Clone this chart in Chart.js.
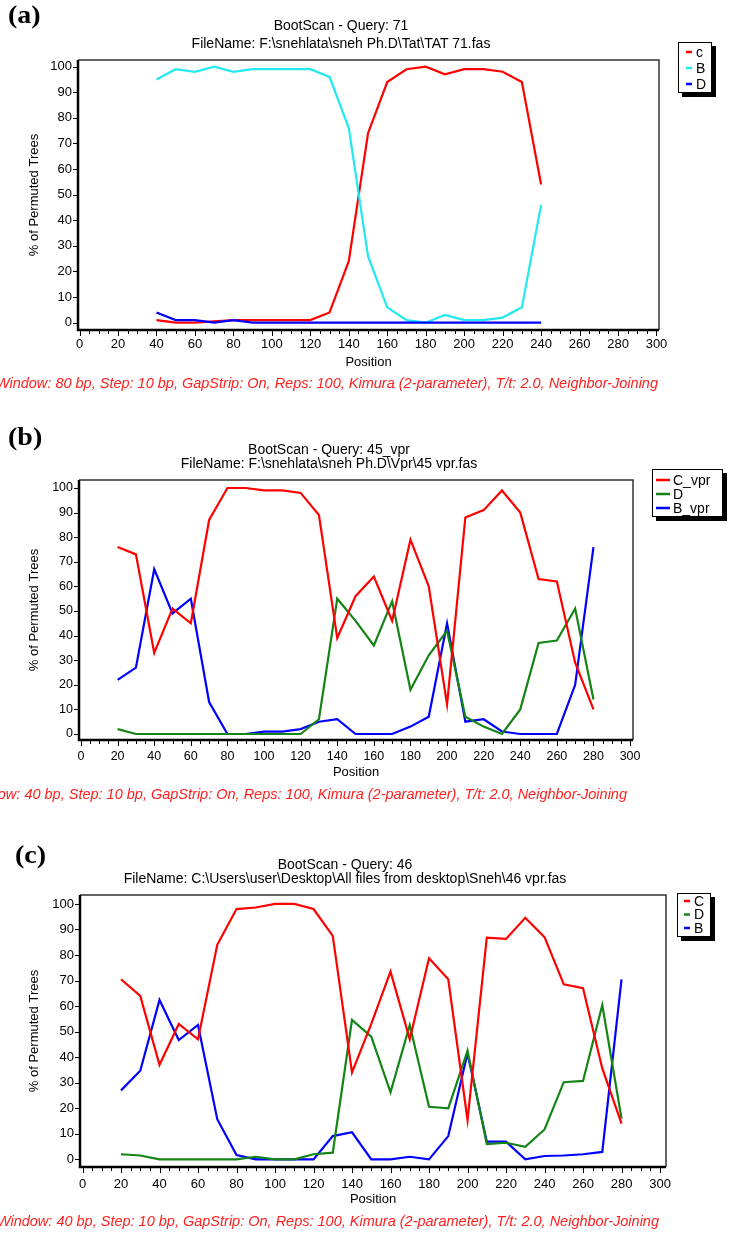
<!DOCTYPE html>
<html><head><meta charset="utf-8">
<script src="https://cdn.jsdelivr.net/npm/chart.js@4.4.1/dist/chart.umd.min.js"></script>
<style>
html,body{margin:0;padding:0;background:#fff;}
body{width:729px;height:1235px;position:relative;overflow:hidden;font-family:"Liberation Sans",Arial,sans-serif;}
canvas{position:absolute;left:0;}
.t{position:absolute;white-space:nowrap;transform:translate(-50%,-50%);color:#000;font-size:14px;line-height:16px;z-index:2;}
.lab{position:absolute;font-family:"Liberation Serif","Times New Roman",serif;font-weight:bold;font-size:25px;line-height:26px;z-index:2;transform:translateY(-50%) scaleX(1.12);transform-origin:left center;}
.cap{position:absolute;white-space:nowrap;color:#ff2020;font-style:italic;font-size:14.5px;line-height:16px;transform:translate(-100%,-50%);z-index:2;}
</style></head>
<body>
<canvas id="ca" width="729" height="400" style="top:0px"></canvas>
<canvas id="cb" width="729" height="400" style="top:420px"></canvas>
<canvas id="cc" width="729" height="395" style="top:840px"></canvas>

<div class="lab" style="left:8px;top:15px">(a)</div>
<div class="t" style="left:341px;top:25px">BootScan - Query: 71</div>
<div class="t" style="left:341px;top:43px">FileName: F:\snehlata\sneh Ph.D\Tat\TAT 71.fas</div>
<div class="cap" style="left:658px;top:383px">Window: 80 bp, Step: 10 bp, GapStrip: On, Reps: 100, Kimura (2-parameter), T/t: 2.0, Neighbor-Joining</div>

<div class="lab" style="left:8px;top:437px">(b)</div>
<div class="t" style="left:329px;top:449px">BootScan - Query: 45_vpr</div>
<div class="t" style="left:329px;top:463px">FileName: F:\snehlata\sneh Ph.D\Vpr\45 vpr.fas</div>
<div class="cap" style="left:627px;top:794px">Window: 40 bp, Step: 10 bp, GapStrip: On, Reps: 100, Kimura (2-parameter), T/t: 2.0, Neighbor-Joining</div>

<div class="lab" style="left:15px;top:855px">(c)</div>
<div class="t" style="left:345px;top:864px">BootScan - Query: 46</div>
<div class="t" style="left:345px;top:878px">FileName: C:\Users\user\Desktop\All files from desktop\Sneh\46 vpr.fas</div>
<div class="cap" style="left:659px;top:1221px">Window: 40 bp, Step: 10 bp, GapStrip: On, Reps: 100, Kimura (2-parameter), T/t: 2.0, Neighbor-Joining</div>

<script>
// ---------- data ----------
const X_TICKS = [0,20,40,60,80,100,120,140,160,180,200,220,240,260,280,300];
const Y_TICKS = [0,10,20,30,40,50,60,70,80,90,100];
const X_TITLE = 'Position';
const Y_TITLE = '% of Permuted Trees';

// Panel (a)
const POS_A = [40,50,60,70,80,90,100,110,120,130,140,150,160,170,180,190,200,210,220,230,240];
const A_c = [1,0,0,0.5,1,1,1,1,1,4,24,74,94,99,100,97,99,99,98,94,54];
const A_B = [95,99,98,100,98,99,99,99,99,96,76,26,6,1,0,3,1,1,2,6,46];
const A_D = [4,1,1,0,1,0,0,0,0,0,0,0,0,0,0,0,0,0,0,0,0];

// Panel (b)
const POS_B = [20,30,40,50,60,70,80,90,100,110,120,130,140,150,160,170,180,190,200,210,220,230,240,250,260,270,280];
const B_C = [76,73,33,51,45,87,100,100,99,99,98,89,39,56,64,46,79,60,12,88,91,99,90,63,62,29,10];
const B_D = [2,0,0,0,0,0,0,0,0,0,0,6,55,46,36,54,18,32,42,7,3,0,10,37,38,51,14];
const B_B = [22,27,67,49,55,13,0,0,1,1,2,5,6,0,0,0,3,7,45,5,6,1,0,0,0,20,76];

// Panel (c)
const POS_C = [20,30,40,50,60,70,80,90,100,110,120,130,140,150,160,170,180,190,200,210,220,230,240,250,260,270,280];
const C_C = [70.5,64,37,53,47,84,98,98.6,100,100,98,87.5,34,53,73.5,47,78.7,70.5,15.4,86.8,86.3,94.6,87,68.5,67,35.6,14];
const C_D = [2,1.5,0,0,0,0,0,1,0,0,2,2.6,54.6,48,26.2,52.6,20.6,20,42.5,6,6.5,4.9,11.7,30.2,30.7,60.4,16];
const C_B = [27,34.7,62.4,46.7,52.6,15.7,1.7,0,0,0,0,9.1,10.6,0,0,1,0,9.1,41.5,6.9,6.9,0,1.3,1.5,2,2.9,70.5];

const RED = '#ff0000', CYAN = '#22e8f0', BLUE = '#0000ff', GREEN = '#148414';

// ---------- plugins ----------
const frameTicks = {
  id: 'frameTicks',
  afterDatasetsDraw(chart) {
    const {ctx, chartArea: a, scales: {x, y}} = chart;
    ctx.save();
    ctx.strokeStyle = '#333'; ctx.lineWidth = 1.5;
    ctx.beginPath(); ctx.moveTo(a.left, a.top); ctx.lineTo(a.right, a.top); ctx.lineTo(a.right, a.bottom); ctx.stroke();
    ctx.strokeStyle = '#000'; ctx.lineWidth = 2.5;
    ctx.beginPath(); ctx.moveTo(a.left, a.top); ctx.lineTo(a.left, a.bottom); ctx.lineTo(a.right, a.bottom); ctx.stroke();
    ctx.lineWidth = 1;
    const xt = x.ticks.map(t => t.value);
    for (let i = 0; i < xt.length; i++) {
      const px = Math.round(x.getPixelForValue(xt[i])) + 0.5;
      ctx.beginPath(); ctx.moveTo(px, a.bottom + 1); ctx.lineTo(px, a.bottom + 6); ctx.stroke();
      if (i < xt.length - 1) {
        for (let k = 1; k < 4; k++) {
          const v = xt[i] + (xt[i+1] - xt[i]) * k / 4;
          const mx = Math.round(x.getPixelForValue(v)) + 0.5;
          ctx.beginPath(); ctx.moveTo(mx, a.bottom + 1); ctx.lineTo(mx, a.bottom + 4); ctx.stroke();
        }
      }
    }
    y.ticks.forEach(t => {
      const py = Math.round(y.getPixelForValue(t.value)) + 0.5;
      ctx.beginPath(); ctx.moveTo(a.left - 5, py); ctx.lineTo(a.left - 1, py); ctx.stroke();
    });
    ctx.restore();
  }
};

const boxLegend = {
  id: 'boxLegend',
  afterDraw(chart, args, o) {
    const ctx = chart.ctx;
    ctx.save();
    ctx.fillStyle = '#000';
    ctx.fillRect(o.x + 4, o.y + 4, o.w, o.h);
    ctx.fillStyle = '#fff';
    ctx.fillRect(o.x, o.y, o.w, o.h);
    ctx.strokeStyle = '#000'; ctx.lineWidth = 1;
    ctx.strokeRect(o.x + 0.5, o.y + 0.5, o.w - 1, o.h - 1);
    ctx.font = o.fs + 'px "Liberation Sans", Arial, sans-serif';
    ctx.textBaseline = 'middle';
    chart.data.datasets.forEach((ds, i) => {
      const yy = o.items[i];
      ctx.strokeStyle = ds.borderColor; ctx.lineWidth = 2.5;
      ctx.beginPath(); ctx.moveTo(o.l1, yy); ctx.lineTo(o.l2, yy); ctx.stroke();
      ctx.fillStyle = '#000';
      ctx.fillText(ds.label, o.tx, yy + 1);
    });
    ctx.restore();
  }
};

Chart.defaults.font.family = '"Liberation Sans", Arial, sans-serif';
Chart.defaults.color = '#000';

function makeChart(id, P) {
  return new Chart(document.getElementById(id), {
    type: 'line',
    data: {
      datasets: P.series.map(s => ({
        label: s.name,
        data: P.pos.map((x, i) => ({x: x, y: s.values[i]})),
        borderColor: s.color, backgroundColor: s.color,
        borderWidth: 2.2, pointRadius: 0, tension: 0, fill: false,
        order: s.order
      }))
    },
    options: {
      responsive: false, animation: false, events: [],
      layout: {padding: P.pad},
      plugins: {legend: {display: false}, tooltip: {enabled: false}, boxLegend: P.legend},
      scales: {
        x: {
          type: 'linear', min: P.xMin, max: P.xMax,
          afterBuildTicks: s => { s.ticks = X_TICKS.map(v => ({value: v})); },
          afterFit: s => { s.height = 40; },
          grid: {display: false, drawTicks: false}, border: {display: false},
          ticks: {padding: P.xPad, font: {size: P.fs}, color: '#000', autoSkip: false, maxRotation: 0, includeBounds: false},
          title: {display: true, text: X_TITLE, font: {size: 13}, color: '#000', padding: 0}
        },
        y: {
          type: 'linear', min: P.yMin, max: P.yMax,
          afterBuildTicks: s => { s.ticks = Y_TICKS.map(v => ({value: v})); },
          afterFit: s => { s.width = P.yW; },
          grid: {display: false, drawTicks: false}, border: {display: false},
          ticks: {padding: 6, font: {size: P.fs}, color: '#000', autoSkip: false, includeBounds: false},
          title: {display: true, text: Y_TITLE, font: {size: 13}, color: '#000', padding: {top: 27, bottom: 0}}
        }
      }
    },
    plugins: [frameTicks, boxLegend]
  });
}

makeChart('ca', {
  pos: POS_A,
  series: [
    {name: 'c', values: A_c, color: RED, order: 2},
    {name: 'B', values: A_B, color: CYAN, order: 1},
    {name: 'D', values: A_D, color: BLUE, order: 0}
  ],
  pad: {top: 60, left: 0, right: 70, bottom: 30},
  yW: 78, xMin: -0.8, xMax: 301.3, yMin: -2.85, yMax: 102.6, fs: 13, xPad: 7,
  legend: {x: 678, y: 42, w: 34, h: 51, items: [52, 68, 84], l1: 686, l2: 692, tx: 696, fs: 14}
});

makeChart('cb', {
  pos: POS_B,
  series: [
    {name: 'C_vpr', values: B_C, color: RED, order: 0},
    {name: 'D', values: B_D, color: GREEN, order: 1},
    {name: 'B_vpr', values: B_B, color: BLUE, order: 2}
  ],
  pad: {top: 60, left: 0, right: 96, bottom: 40},
  yW: 79, xMin: -1.1, xMax: 301.6, yMin: -2.44, yMax: 103.25, fs: 12.5, xPad: 9,
  legend: {x: 652, y: 49, w: 71, h: 48, items: [60, 74, 88], l1: 656, l2: 670, tx: 673, fs: 14}
});

makeChart('cc', {
  pos: POS_C,
  series: [
    {name: 'C', values: C_C, color: RED, order: 0},
    {name: 'D', values: C_D, color: GREEN, order: 1},
    {name: 'B', values: C_B, color: BLUE, order: 2}
  ],
  pad: {top: 55, left: 0, right: 63, bottom: 28},
  yW: 80, xMin: -1.3, xMax: 303.1, yMin: -3.0, yMax: 103.5, fs: 13, xPad: 10,
  legend: {x: 677, y: 53, w: 34, h: 44, items: [61, 74.5, 88], l1: 684, l2: 690, tx: 694, fs: 14}
});
</script>
</body></html>
